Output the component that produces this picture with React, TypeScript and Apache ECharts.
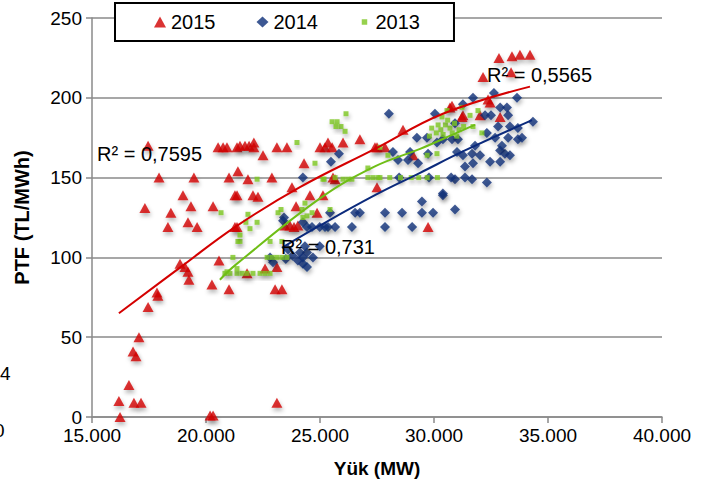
import React, { useEffect, useRef } from 'react';
import * as echarts from 'echarts';

const yTicks = [0, 50, 100, 150, 200, 250];
const xRange = [15000, 40000];

const red2015: number[][] = [
  [16230, 0], [16180, 10], [16840, 9], [17150, 9], [16620, 20], [16800, 41], [16930, 38], [17060, 50],
  [17460, 69], [17850, 78], [17890, 76], [20180, 1], [20310, 1], [23110, 9],
  [18860, 96], [19080, 94], [19210, 91], [19250, 86], [20260, 83], [21010, 80], [21800, 90], [22590, 93],
  [23110, 94], [23030, 80], [23330, 80],
  [17460, 170], [20530, 169], [20750, 169], [20920, 169], [21360, 169], [17940, 150], [19470, 150],
  [21010, 150], [18990, 139], [21270, 139], [17320, 131], [18460, 128], [19340, 132], [20310, 132],
  [18330, 119], [19210, 122], [19610, 119], [21270, 119], [20570, 98],
  [21490, 170], [21710, 170], [21890, 170], [22100, 172], [22100, 169], [22500, 164], [23110, 169],
  [23550, 169], [24300, 159], [25000, 169], [25220, 169], [25350, 172], [25530, 169], [26010, 172],
  [26750, 174], [27410, 169], [21400, 154], [21840, 149], [22890, 150], [21360, 139], [22060, 139],
  [22280, 138], [23770, 144], [24560, 139], [25130, 139], [25660, 149], [23950, 132], [24870, 128],
  [21360, 119], [23460, 120], [23680, 120], [23860, 119], [24030, 120],
  [28640, 180], [27500, 169], [27850, 169], [29080, 164], [30700, 194], [31270, 189], [27500, 144],
  [30790, 195], [31230, 188], [32020, 189], [32900, 188], [32850, 225], [33420, 226], [33770, 227],
  [34210, 227], [32150, 213], [32370, 199], [33380, 216], [29740, 119], [32460, 197], [25570, 150]
];

const blue2014: number[][] = [
  [29470, 135], [30390, 139], [30920, 130], [27850, 128], [28600, 128], [29470, 128], [29960, 128],
  [26540, 128], [26750, 128], [25440, 128], [23380, 123], [24250, 122], [24430, 119], [24650, 119],
  [25350, 119], [25660, 119], [26400, 119], [27850, 119], [29040, 119],
  [22810, 100], [22940, 97], [23600, 105], [24120, 103], [24430, 103], [24250, 100], [24690, 100],
  [23800, 101], [24030, 98], [24250, 96], [24430, 94], [24340, 107], [24990, 107], [23500, 99],
  [25480, 160], [25830, 165], [24250, 150], [23420, 125], [24990, 119], [25220, 119],
  [28020, 190], [30040, 190], [31710, 200], [32630, 203], [33640, 200], [32900, 194], [32240, 189],
  [32500, 189], [33200, 194], [33250, 189], [32810, 182], [33330, 182], [33680, 181], [34340, 185],
  [32320, 178], [32680, 175], [32900, 167], [33250, 175], [33110, 165], [33330, 164], [33680, 174],
  [32460, 160], [32900, 160], [30790, 174], [31050, 174], [31010, 166], [31270, 164], [31670, 165],
  [31710, 159], [32020, 164], [31360, 157], [30920, 149], [31670, 149], [32320, 147], [30130, 172],
  [30390, 174], [29690, 175], [29250, 175], [29740, 165], [28950, 166], [28420, 161], [28200, 166],
  [28860, 161], [29300, 159], [28470, 150], [29780, 150], [30750, 150], [31360, 150], [30390, 140],
  [30920, 184], [31270, 196], [33860, 175], [32980, 170], [31800, 170]
];

const green2013: number[][] = [
  [20830, 90], [21050, 90], [21360, 90], [21580, 90], [21800, 90], [22060, 90], [22370, 90],
  [22590, 90], [22810, 90], [20660, 128], [21400, 110], [21180, 100], [20920, 91], [21360, 93],
  [26140, 190], [25530, 185], [25750, 185], [25920, 182], [26100, 179], [25700, 182], [23990, 172],
  [24780, 159], [22240, 149], [25180, 149], [25660, 150], [26400, 149], [27100, 150], [27320, 150],
  [27540, 150], [23290, 130], [23160, 128], [24210, 130], [24430, 126], [24650, 128], [25440, 130],
  [24250, 125], [22240, 122], [21490, 110], [22810, 110], [23330, 110], [22680, 100], [22900, 100],
  [23110, 100], [23330, 100], [23550, 100], [21840, 127], [21750, 122], [21930, 118], [21490, 114],
  [27100, 156], [27980, 164], [27630, 169], [29700, 164], [30130, 165], [30180, 183], [30570, 192],
  [31230, 194], [31580, 189], [31930, 192], [32100, 178], [31710, 182],
  [27630, 150], [28060, 150], [28530, 150], [29000, 150], [29330, 150], [29700, 150], [30150, 150],
  [25130, 149], [26010, 149], [26230, 149], [24340, 134],
  [30300, 180], [30500, 183], [30700, 181], [30900, 184], [31100, 180], [31300, 182], [30400, 177],
  [30800, 178], [31000, 176], [29800, 176], [29900, 181], [30100, 178], [30350, 188], [30600, 186]
];

const trend2015: number[][] = [
  [16180, 65], [18990, 95], [21270, 119], [24120, 144], [27410, 168], [30390, 190], [34210, 207]
];
const trend2014: number[][] = [
  [23330, 106], [25000, 120], [27410, 139], [29390, 153], [31360, 167], [34300, 186]
];
const trend2013: number[][] = [
  [20610, 86], [21270, 95], [25000, 137], [27410, 157], [29390, 168], [31140, 179], [31800, 183]
];

const seriesNames = ['2015', '2014', '2013'];
const r2Labels = ['R² = 0,7595', 'R² = 0,5565', 'R² = 0,731'];
const axisNames = ['Yük (MW)', 'PTF (TL/MWh)'];

const FONT = 'Liberation Sans, Arial, sans-serif';

function fmtThousands(v: number): string {
  return String(v).replace(/\B(?=(\d{3})+(?!\d))/g, '.');
}

export default function App() {
  const ref = useRef<HTMLDivElement>(null);
  useEffect(() => {
    document.body.style.margin = '0';
    const chart = echarts.init(ref.current as HTMLDivElement, null, { renderer: 'svg' });
    const shadow = {
      shadowBlur: 4,
      shadowOffsetX: 1,
      shadowOffsetY: 3,
      shadowColor: 'rgba(0,0,0,0.35)'
    };
    const axisGrey = '#8a8a8a';
    chart.setOption({
      animation: false,
      backgroundColor: '#ffffff',
      textStyle: { fontFamily: FONT },
      grid: { left: 92, right: 52, top: 18, bottom: 69, containLabel: false },
      legend: {
        left: 115,
        top: 3,
        padding: [9, 34, 9, 39],
        itemGap: 41,
        itemWidth: 12,
        itemHeight: 11,
        backgroundColor: '#ffffff',
        borderColor: '#000000',
        borderWidth: 2,
        borderRadius: 0,
        textStyle: { fontSize: 20, color: '#000', fontFamily: FONT },
        data: [
          { name: seriesNames[0], icon: 'triangle' },
          { name: seriesNames[1], icon: 'diamond' },
          { name: seriesNames[2], icon: 'path://M0,0M12,12M3,3h6v6h-6z' }
        ]
      },
      xAxis: {
        type: 'value',
        min: xRange[0],
        max: xRange[1],
        interval: 5000,
        name: axisNames[0],
        nameLocation: 'middle',
        nameGap: 42,
        nameTextStyle: { fontSize: 19, fontWeight: 'bold', color: '#000', fontFamily: FONT },
        axisLine: { show: true, lineStyle: { color: axisGrey, width: 1.5 } },
        axisTick: { show: true, length: 6, lineStyle: { color: axisGrey, width: 1.5 } },
        axisLabel: { fontSize: 19, color: '#000', margin: 9, formatter: (v: number) => fmtThousands(v) },
        splitLine: { show: false }
      },
      yAxis: {
        type: 'value',
        min: yTicks[0],
        max: yTicks[yTicks.length - 1],
        interval: 50,
        name: axisNames[1],
        nameLocation: 'middle',
        nameGap: 60,
        nameTextStyle: { fontSize: 20, fontWeight: 'bold', color: '#000', fontFamily: FONT },
        axisLine: { show: true, lineStyle: { color: axisGrey, width: 1.5 } },
        axisTick: { show: true, length: 6, lineStyle: { color: axisGrey, width: 1.5 } },
        axisLabel: { fontSize: 19, color: '#000', margin: 10 },
        splitLine: { show: true, lineStyle: { color: axisGrey, width: 1.5 } }
      },
      series: [
        {
          name: seriesNames[0],
          type: 'scatter',
          symbol: 'triangle',
          symbolSize: [11, 10],
          data: red2015,
          itemStyle: { color: '#d10000', ...shadow },
          z: 2
        },
        {
          name: seriesNames[1],
          type: 'scatter',
          symbol: 'diamond',
          symbolSize: [10, 10],
          data: blue2014,
          itemStyle: { color: '#0d2e78', ...shadow },
          z: 3
        },
        {
          name: seriesNames[2],
          type: 'scatter',
          symbol: 'rect',
          symbolSize: [5, 5],
          data: green2013,
          itemStyle: { color: '#7cc520', ...shadow },
          z: 4
        },
        {
          name: 'trend2015',
          type: 'line',
          data: trend2015,
          smooth: 0.4,
          showSymbol: false,
          symbol: 'none',
          lineStyle: { color: '#d40000', width: 2 },
          z: 6
        },
        {
          name: 'trend2014',
          type: 'line',
          data: trend2014,
          smooth: 0.4,
          showSymbol: false,
          symbol: 'none',
          lineStyle: { color: '#0b2a7c', width: 2 },
          z: 6
        },
        {
          name: 'trend2013',
          type: 'line',
          data: trend2013,
          smooth: 0.4,
          showSymbol: false,
          symbol: 'none',
          lineStyle: { color: '#6fbe16', width: 2 },
          z: 6
        }
      ],
      graphic: [
        { type: 'text', left: 97, top: 144, z: 100, style: { text: r2Labels[0], fontSize: 20, fill: '#000', fontFamily: FONT } },
        { type: 'text', left: 487, top: 65, z: 100, style: { text: r2Labels[1], fontSize: 20, fill: '#000', fontFamily: FONT } },
        { type: 'text', left: 281, top: 237, z: 100, style: { text: r2Labels[2], fontSize: 20, fill: '#000', fontFamily: FONT } },
        { type: 'text', left: 0, top: 364, z: 100, style: { text: '4', fontSize: 19, fill: '#000', fontFamily: FONT } },
        { type: 'text', left: -6, top: 421, z: 100, style: { text: '0', fontSize: 19, fill: '#000', fontFamily: FONT } }
      ]
    });
    return () => chart.dispose();
  }, []);
  return <div ref={ref} style={{ width: 714, height: 486 }} />;
}
